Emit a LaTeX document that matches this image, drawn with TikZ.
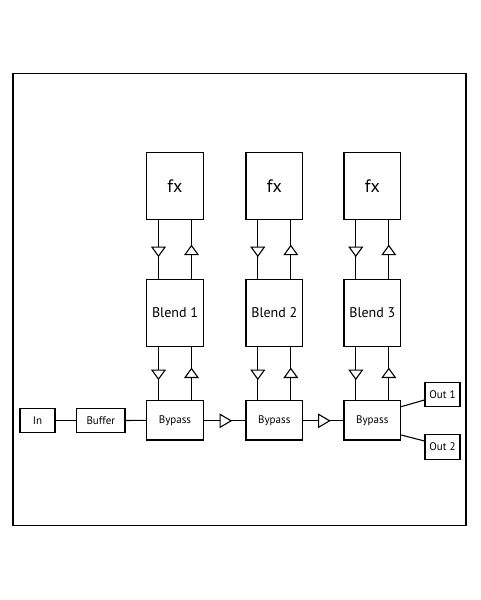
\documentclass[tikz,border=0pt]{standalone}
\usepackage{fontspec}
\setmainfont{PT Sans}
\usetikzlibrary{shapes.geometric}
\begin{document}
\begin{tikzpicture}[x=1pt,y=-1pt,line width=1.1pt,
  blk/.style={draw,fill=white,inner sep=0pt,minimum width=56.6pt},
  fxbox/.style={blk,minimum height=67pt,font=\fontsize{18}{20}\selectfont},
  blendbox/.style={blk,minimum height=66.7pt,font=\fontsize{14}{16}\selectfont},
  bypassbox/.style={blk,minimum height=39.3pt,font=\fontsize{11}{13}\selectfont},
  smallbox/.style={draw,fill=white,inner sep=0pt,minimum height=24.4pt,font=\fontsize{11}{13}\selectfont},
  tri/.style={draw,fill=white,isosceles triangle,isosceles triangle stretches,
    inner sep=0pt,minimum width=13pt,minimum height=9pt},
  htri/.style={tri,minimum width=13pt,minimum height=11pt},
]
\useasboundingbox (0,0) rectangle (480,600);
\node[draw,line width=1.4pt,minimum width=453pt,minimum height=452.4pt,inner sep=0pt] (frame) at (239.5,299.5) {};

\foreach \c/\x in {1/175,2/274.3,3/372.3}{
  \node[fxbox] (fx\c) at (\x,185.8) {fx};
  \node[blendbox] (bl\c) at (\x,312.7) {Blend \c};
  \node[bypassbox] (by\c) at (\x,420.3) {Bypass};
  \draw ([xshift=-16.5pt]fx\c.south) -- ([xshift=-16.5pt]bl\c.north);
  \draw ([xshift=16.5pt]fx\c.south) -- ([xshift=16.5pt]bl\c.north);
  \draw ([xshift=-16.5pt]bl\c.south) -- ([xshift=-16.5pt]by\c.north);
  \draw ([xshift=16.5pt]bl\c.south) -- ([xshift=16.5pt]by\c.north);
  \node[tri,rotate=-90] (tud\c) at (\x-16.5,250.5) {};
  \node[tri,rotate=90] (tuu\c) at (\x+16.5,251.3) {};
  \node[tri,rotate=-90] (tld\c) at (\x-16.5,373.5) {};
  \node[tri,rotate=90] (tlu\c) at (\x+16.5,374.2) {};
}

\node[smallbox,minimum width=35pt] (in) at (37.5,420.5) {In};
\node[smallbox,minimum width=48.3pt] (buf) at (100.8,420.5) {Buffer};
\node[smallbox,minimum width=35pt,minimum height=23.7pt] (o1) at (442.5,394.2) {Out 1};
\node[smallbox,minimum width=35pt,minimum height=24.7pt] (o2) at (442.5,446.7) {Out 2};

\draw (in.east) -- (buf.west);
\draw (buf.east) -- (by1.west);
\draw (by1.east) -- (by2.west);
\draw (by2.east) -- (by3.west);
\node[htri] (th1) at (223.8,420.8) {};
\node[htri] (th2) at (322.3,420.8) {};
\draw ([yshift=13.6pt]by3.east) -- ([yshift=-5.8pt]o1.west);
\draw ([yshift=-14.7pt]by3.east) -- ([yshift=5.7pt]o2.west);
\end{tikzpicture}
\end{document}
